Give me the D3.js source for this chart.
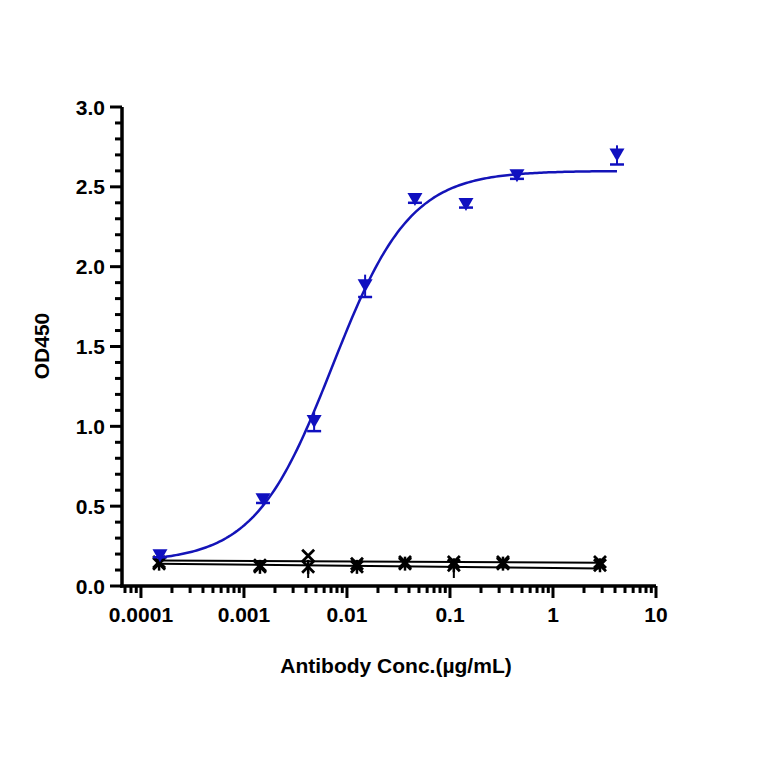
<!DOCTYPE html>
<html><head><meta charset="utf-8">
<script src="https://cdn.jsdelivr.net/npm/d3@7"></script>
<style>body{margin:0;background:#fff}text{font-family:"Liberation Sans",Arial,sans-serif;font-weight:bold}</style>
</head><body><svg id="c" width="764" height="764"></svg>
<script>
var blue_x = [0.000153, 0.00153, 0.0048, 0.015, 0.0457, 0.143, 0.447, 4.18];
var blue_y = [0.19, 0.54, 1.03, 1.88, 2.42, 2.39, 2.57, 2.70];
var blue_err = [0.01, 0.02, 0.06, 0.07, 0.02, 0.02, 0.02, 0.06];
var fit_bottom = 0.15, fit_top = 2.6, fit_ec50 = 0.0072, fit_hill = 1.15;
var neg_x = [0.00015, 0.00143, 0.0042, 0.0125, 0.0366, 0.109, 0.327, 2.86];
var negA_y = [0.15, 0.13, 0.19, 0.14, 0.15, 0.15, 0.15, 0.15];
var negB_y = [0.14, 0.12, 0.12, 0.12, 0.14, 0.13, 0.14, 0.13];
var negB_err = [0, 0, 0.07, 0, 0, 0.08, 0, 0.04];
var negA_fit = [0.16, 0.145], negB_fit = [0.14, 0.11];
var y_ticks = [0, 0.5, 1.0, 1.5, 2.0, 2.5, 3.0];
var x_ticks = [0.0001, 0.001, 0.01, 0.1, 1, 10];
var x_labels = ["0.0001", "0.001", "0.01", "0.1", "1", "10"];

var svg = d3.select("#c");
var x = d3.scaleLog().domain([Math.pow(10, -4.184), 10]).range([122, 656]);
var y = d3.scaleLinear().domain([0, 3]).range([586, 107]);

// y axis
var ya = svg.append("g").attr("transform", "translate(122,0)");
ya.append("line").attr("y1", y(0) + 1.5).attr("y2", y(3)).attr("stroke", "#000").attr("stroke-width", 3.5);
ya.selectAll(".mn").data(d3.range(0, 31).map(function (i) { return i / 10; })).enter()
	.append("line").attr("x1", 0).attr("x2", function (d, i) { return i % 5 == 0 ? -12 : -7; })
	.attr("y1", function (d) { return y(d); }).attr("y2", function (d) { return y(d); })
	.attr("stroke", "#000").attr("stroke-width", 3);
ya.selectAll(".lb").data(y_ticks).enter().append("text")
	.attr("x", -17).attr("y", function (d) { return y(d) + 7.5; }).attr("text-anchor", "end")
	.attr("font-size", 21).text(function (d) { return d.toFixed(1); });

// x axis
var xa = svg.append("g");
xa.append("line").attr("x1", 120).attr("x2", 656).attr("y1", 586).attr("y2", 586).attr("stroke", "#000").attr("stroke-width", 3.5);
var minors = [];
for (var e = -5; e < 1; e++) for (var m = 2; m < 10; m++) { var v = m * Math.pow(10, e); if (v > x.domain()[0] && v < 10) minors.push(v); }
xa.selectAll(".mn").data(minors).enter().append("line")
	.attr("x1", function (d) { return x(d); }).attr("x2", function (d) { return x(d); })
	.attr("y1", 586).attr("y2", 593).attr("stroke", "#000").attr("stroke-width", 3);
xa.selectAll(".mj").data(x_ticks).enter().append("line")
	.attr("x1", function (d) { return x(d); }).attr("x2", function (d) { return x(d); })
	.attr("y1", 586).attr("y2", 598).attr("stroke", "#000").attr("stroke-width", 3);
xa.selectAll(".lb").data(x_ticks).enter().append("text")
	.attr("x", function (d) { return x(d); }).attr("y", 622).attr("text-anchor", "middle")
	.attr("font-size", 21).text(function (d, i) { return x_labels[i]; });

svg.append("text").attr("x", 396).attr("y", 673).attr("text-anchor", "middle").attr("font-size", 21)
	.text("Antibody Conc.(µg/mL)");
svg.append("text").attr("transform", "translate(49,346) rotate(-90)").attr("text-anchor", "middle")
	.attr("font-size", 21).text("OD450");

// negative control fits
function fitLine(ends) {
	svg.append("line").attr("x1", x(neg_x[0])).attr("x2", x(neg_x[neg_x.length - 1]))
		.attr("y1", y(ends[0])).attr("y2", y(ends[1])).attr("stroke", "#000").attr("stroke-width", 2);
}
fitLine(negA_fit); fitLine(negB_fit);
svg.selectAll(".eb").data(neg_x).enter().append("line")
	.attr("x1", function (d) { return x(d); }).attr("x2", function (d) { return x(d); })
	.attr("y1", function (d, i) { return y(negB_y[i]); }).attr("y2", function (d, i) { return y(negB_y[i] - negB_err[i]); })
	.attr("stroke", "#000").attr("stroke-width", 2);
function crosses(ys, vert) {
	var g = svg.selectAll(null).data(neg_x).enter().append("g")
		.attr("transform", function (d, i) { return "translate(" + x(d) + "," + y(ys[i]) + ")"; });
	g.append("path").attr("d", "M-6,-6L6,6M-6,6L6,-6").attr("stroke", "#000").attr("stroke-width", 2.8);
	if (vert) g.append("path").attr("d", "M0,-7L0,7").attr("stroke", "#000").attr("stroke-width", 2.5);
}
crosses(negA_y, false); crosses(negB_y, true);

// blue fit curve
var curve_x = d3.range(0, 201).map(function (i) { return Math.pow(10, Math.log10(blue_x[0]) + i / 200 * (Math.log10(blue_x[7]) - Math.log10(blue_x[0]))); });
svg.append("path").datum(curve_x)
	.attr("d", d3.line().x(function (d) { return x(d); })
		.y(function (d) { var r = Math.pow(d / fit_ec50, fit_hill); return y(fit_bottom + (fit_top - fit_bottom) * r / (1 + r)); }))
	.attr("fill", "none").attr("stroke", "#1414b8").attr("stroke-width", 2.5);

// blue error bars + markers
var bl = "#1010c0";
var be = svg.selectAll(".be").data(blue_x).enter().append("g");
be.append("line").attr("x1", function (d) { return x(d); }).attr("x2", function (d) { return x(d); })
	.attr("y1", function (d, i) { return y(blue_y[i] + blue_err[i]); }).attr("y2", function (d, i) { return y(blue_y[i] - blue_err[i]); })
	.attr("stroke", bl).attr("stroke-width", 2);
be.append("line").attr("x1", function (d) { return x(d) - 7; }).attr("x2", function (d) { return x(d) + 7; })
	.attr("y1", function (d, i) { return y(blue_y[i] - blue_err[i]); }).attr("y2", function (d, i) { return y(blue_y[i] - blue_err[i]); })
	.attr("stroke", bl).attr("stroke-width", 2.5);
svg.selectAll(".bm").data(blue_x).enter().append("path")
	.attr("transform", function (d, i) { return "translate(" + x(d) + "," + y(blue_y[i]) + ")"; })
	.attr("d", "M-7.5,-6.5L7.5,-6.5L0,6.5Z").attr("fill", bl);
</script></body></html>
